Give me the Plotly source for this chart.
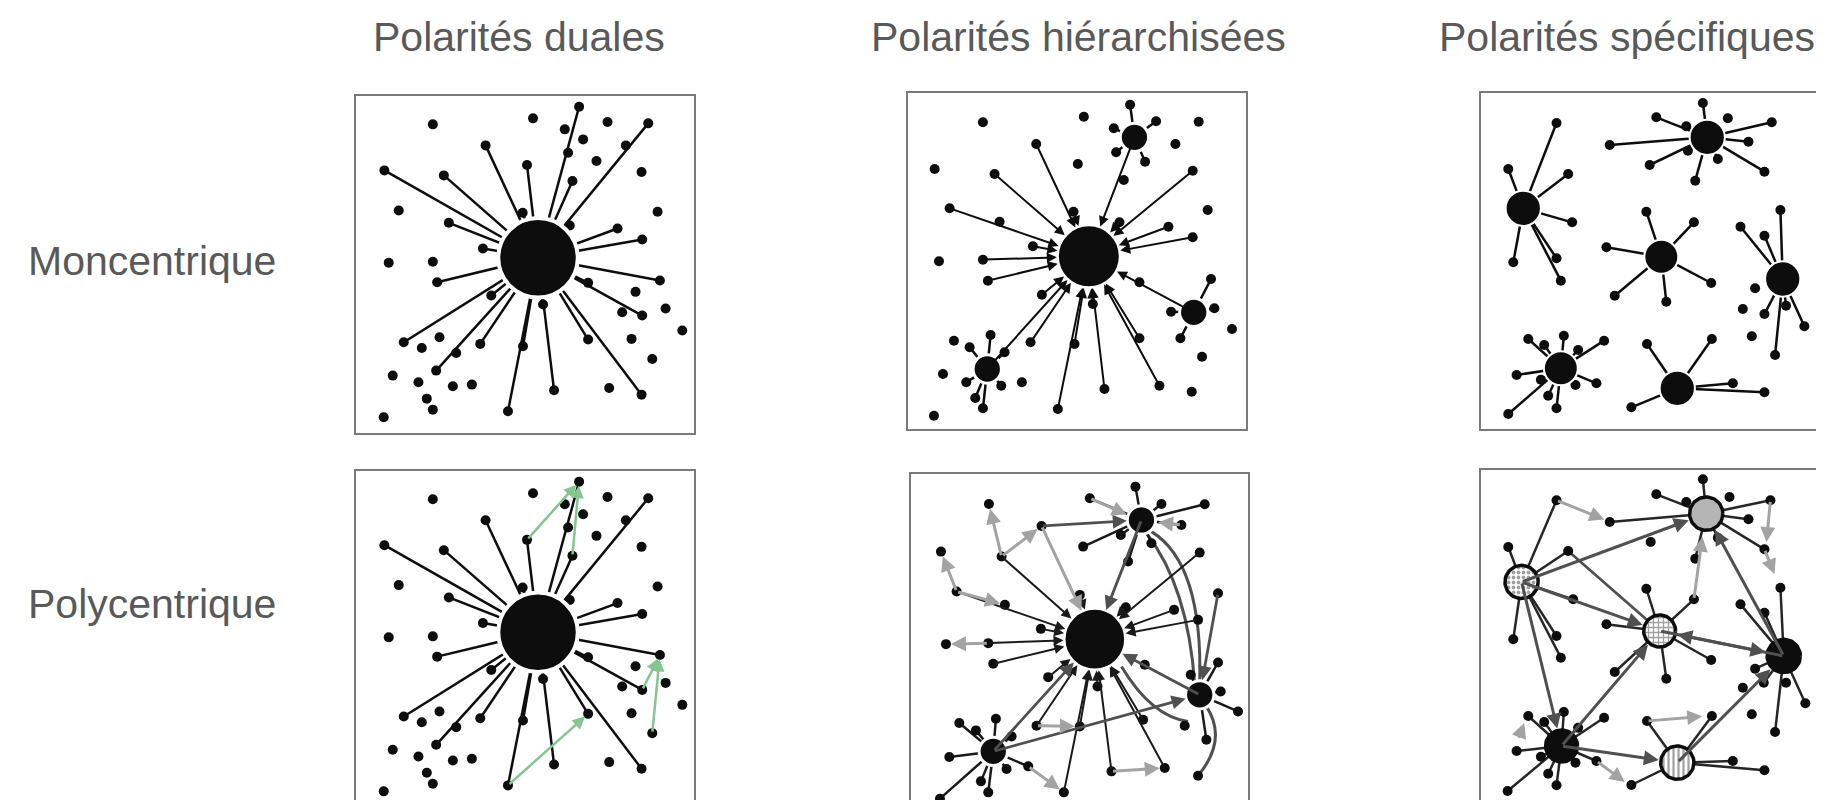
import numpy as np
import plotly.graph_objects as go

W, H = 1824, 800

# ---------------- text ----------------
COL_TITLES = ["Polarités duales", "Polarités hiérarchisées", "Polarités spécifiques"]
COL_TITLE_X = [511, 1070, 1619]
COL_TITLE_Y = 29
ROW_TITLES = ["Moncentrique", "Polycentrique"]
ROW_TITLE_Y = [253, 596]
ROW_TITLE_RIGHT = 270

# panel frames in px (x0, x1, y0, y1) and local extents (bx0, bx1, by0, by1)
PANEL_PX = [(348, 686, 88, 425), (900, 1238, 85, 421), (1473, 1809, 85, 421),
            (348, 686, 463, 799), (903, 1240, 466, 799), (1473, 1809, 462, 798)]
PANEL_BOX = [(25, 1037, 30, 1040), (30, 1045, 22, 1030), (38, 1048, 22, 1030),
             (25, 1037, 30, 1040), (38, 1050, 62, 1062), (38, 1048, 52, 1060)]

# ---------------- panel 1 / 4 : monocentric, dual ----------------
P1_HUBS = [(570, 515, 113)]
P1_SPOKE_X = [110, 288, 413, 537, 693, 673, 900, 303, 405, 524, 808, 882, 935, 882, 720, 880,
              618, 480, 525, 397, 265, 168, 268, 430, 585, 720, 665]
P1_SPOKE_Y = [253, 268, 178, 237, 62, 285, 112, 410, 487, 380, 427, 460, 583, 688, 760, 925,
              912, 975, 780, 773, 853, 768, 588, 628, 655, 590, 418]
P1_DOT_X = [255, 555, 650, 778, 705, 660, 833, 745, 880, 153, 928, 123, 255, 862, 952, 822,
            1002, 850, 912, 783, 275, 222, 325, 135, 212, 315, 372, 237, 255, 108]
P1_DOT_Y = [115, 97, 130, 108, 160, 200, 178, 225, 258, 373, 377, 530, 527, 617, 667, 678,
            733, 758, 818, 905, 753, 785, 800, 868, 888, 900, 895, 937, 970, 993]
P4_GREEN = [(537, 237, 693, 62), (673, 285, 693, 62), (480, 975, 720, 760),
            (912, 818, 935, 583), (882, 688, 935, 583)]

# ---------------- panel 2 : monocentric, hierarchical ----------------
P2_HUBS = [(573, 512, 90), (710, 155, 38), (888, 680, 38), (268, 850, 38)]
P2_IN_X = [155, 290, 415, 255, 270, 405, 527, 885, 812, 885, 665, 725, 785, 620, 480, 530, 398, 432, 585]
P2_IN_Y = [368, 265, 175, 522, 585, 482, 378, 255, 423, 455, 410, 758, 900, 910, 970, 775, 770, 627, 655]
P2_SUB_HUB = [1, 1, 1, 1, 1, 2, 2, 2, 2, 3, 3, 3, 3, 3, 3, 3]
P2_SUB_X = [697, 775, 648, 655, 742, 940, 950, 820, 848, 278, 215, 320, 205, 310, 232, 255]
P2_SUB_Y = [57, 107, 128, 200, 228, 580, 668, 678, 758, 748, 785, 800, 890, 900, 937, 968]
P2_DOT_X = [255, 558, 903, 833, 110, 540, 930, 123, 1003, 913, 882, 168, 135, 372, 108, 305, 725, 678]
P2_DOT_Y = [110, 93, 108, 175, 250, 235, 373, 527, 730, 813, 918, 765, 865, 890, 990, 408, 590, 283]

# ---------------- panel 3 : specific, monocentric ----------------
P3_HUBS = [(165, 368, 50), (718, 155, 50), (580, 513, 48), (945, 580, 50), (278, 848, 48), (628, 908, 50)]
P3_SPOKE_HUB = [0] * 7 + [1] * 11 + [2] * 6 + [3] * 7 + [4] * 12 + [5] * 5
P3_SPOKE_X = [265, 120, 300, 312, 278, 265, 135,
              705, 565, 425, 545, 682, 750, 912, 842, 890, 655, 660,
              535, 678, 415, 440, 595, 730,
              818, 890, 938, 1010, 922, 890, 955,
              180, 228, 287, 330, 408, 145, 218, 322, 385, 240, 265, 120,
              537, 732, 795, 890, 490]
P3_SPOKE_Y = [112, 250, 265, 410, 585, 518, 530,
              52, 95, 178, 238, 285, 220, 110, 168, 258, 122, 195,
              378, 410, 485, 630, 648, 592,
              423, 450, 373, 722, 808, 685, 660,
              760, 778, 750, 793, 765, 868, 882, 898, 893, 930, 968, 985,
              775, 760, 893, 920, 965]
P3_DOT_X = [780, 862, 825, 852]
P3_DOT_Y = [98, 608, 670, 752]

# ---------------- panel 5 : polycentric, hierarchical ----------------
P5_HUBS = [(590, 558, 88), (730, 200, 38), (905, 725, 38), (285, 895, 38)]
P5_IN_X = [310, 175, 270, 285, 428, 545, 905, 828, 900, 683, 735, 800, 640, 545, 497, 415, 450, 598]
P5_IN_Y = [310, 415, 570, 632, 527, 425, 298, 470, 500, 462, 800, 945, 955, 820, 1018, 818, 672, 700]
P5_SUB_HUB = [1] * 9 + [2] * 5 + [3] * 10
P5_SUB_X = [712, 575, 555, 690, 790, 850, 920, 760, 668,
            960, 968, 1020, 925, 878,
            183, 233, 293, 340, 153, 390, 125, 248, 270, 325]
P5_SUB_Y = [100, 135, 280, 325, 152, 215, 153, 270, 245,
            628, 715, 775, 860, 665,
            810, 832, 797, 850, 912, 940, 1037, 985, 1018, 948]
P5_DOT_X = [272, 430, 128, 320, 143, 960, 860, 900, 740]
P5_DOT_Y = [152, 218, 295, 455, 573, 420, 818, 968, 635]
P5_LIGHT = [(310, 310, 272, 152), (310, 310, 430, 218), (175, 415, 128, 295), (175, 415, 320, 455),
            (270, 570, 143, 573), (640, 955, 800, 945), (415, 818, 545, 820), (390, 940, 497, 1018),
            (575, 135, 700, 190), (850, 215, 765, 205)]
P5_LIGHT_TO_HUB = [(430, 218, 0)]
P5_DARK_TO_HUB = [(430, 218, 1), (285, 895, 2), (960, 420, 2), (730, 200, 0), (905, 725, 0), (285, 895, 0)]
P5_CURVES = [(760, 235, 915, 330, 905, 690), (745, 240, 870, 400, 890, 695),
             (900, 968, 990, 860, 925, 760), (670, 640, 760, 790, 870, 805)]

# ---------------- panel 6 : polycentric, specific ----------------
P6_HUBS = [(715, 183, 50), (160, 388, 50), (575, 535, 48), (948, 610, 50), (280, 880, 48), (628, 930, 50)]
P6_HUB_STYLE = ["grey", "dots", "checks", "black", "black", "stripes"]
P6_SPOKE_HUB = [0] * 8 + [1] * 7 + [2] * 6 + [3] * 7 + [4] * 12 + [5] * 5
P6_SPOKE_X = [705, 565, 425, 908, 842, 890, 750, 682,
              120, 265, 300, 315, 265, 278, 135,
              535, 415, 440, 595, 730, 678,
              938, 818, 890, 1013, 922, 888, 862,
              180, 228, 287, 330, 408, 145, 218, 322, 385, 240, 265, 118,
              537, 732, 795, 890, 490]
P6_SPOKE_Y = [80, 125, 208, 143, 200, 290, 255, 318,
              283, 143, 295, 440, 550, 615, 560,
              408, 515, 658, 678, 622, 440,
              405, 455, 480, 752, 838, 690, 648,
              790, 808, 778, 825, 795, 895, 912, 930, 925, 963, 998, 1015,
              805, 790, 925, 953, 997]
P6_DOT_X = [785, 655, 825, 852, 955, 548]
P6_DOT_Y = [133, 148, 705, 785, 690, 268]
P6_LINKS = [(1, 0), (1, 2), (1, 4), (3, 0), (3, 2), (2, 3), (4, 2), (4, 5), (5, 3)]
P6_DARK = [(300, 295, 575, 535)]
P6_LIGHT = [(678, 440, 705, 240), (265, 143, 420, 205), (908, 143, 895, 280), (890, 290, 925, 375),
            (537, 805, 715, 790), (385, 925, 480, 995), (150, 860, 172, 800)]

BLACK = "#0d0d0d"
DARK = "#505050"
LIGHT = "#a3a3a3"
GREEN = "#84c592"
FRAME = "#7a7a7a"
DOT_SIZE = 10
LINE_W = 2.5

fig = go.Figure()
annotations = []
shapes = []


def ax_names(i):
    s = "" if i == 1 else str(i)
    return "x" + s, "y" + s


def scale_of(i):
    x0, x1, _, _ = PANEL_PX[i - 1]
    bx0, bx1, _, _ = PANEL_BOX[i - 1]
    return (x1 - x0) / (bx1 - bx0)


def add_segments(i, segs, color, width):
    xs, ys = [], []
    for (a, b, c, d) in segs:
        xs += [a, c, None]
        ys += [b, d, None]
    xr, yr = ax_names(i)
    fig.add_trace(go.Scatter(x=xs, y=ys, mode="lines", xaxis=xr, yaxis=yr, hoverinfo="skip",
                             line=dict(color=color, width=width), showlegend=False))


def spokes(hubs, hub_idx, xs, ys):
    return [(x, y, hubs[h][0], hubs[h][1]) for h, x, y in zip(hub_idx, xs, ys)]


def add_dots(i, xs, ys, size=DOT_SIZE):
    xr, yr = ax_names(i)
    fig.add_trace(go.Scatter(x=xs, y=ys, mode="markers", xaxis=xr, yaxis=yr, hoverinfo="skip",
                             marker=dict(color=BLACK, size=size, opacity=1, line=dict(width=0)),
                             showlegend=False))


def add_hubs(i, hubs, halo=3):
    xr, yr = ax_names(i)
    s = scale_of(i)
    fig.add_trace(go.Scatter(x=[h[0] for h in hubs], y=[h[1] for h in hubs], mode="markers",
                             xaxis=xr, yaxis=yr, hoverinfo="skip", showlegend=False,
                             marker=dict(color=BLACK, opacity=1, size=[2 * h[2] * s + halo for h in hubs],
                                         line=dict(color="white", width=halo))))


def add_arrow(i, tx, ty, hx, hy, color, width, standoff=0, size=1.0):
    xr, yr = ax_names(i)
    annotations.append(dict(x=hx, y=hy, ax=tx, ay=ty, xref=xr, yref=yr, axref=xr, ayref=yr,
                            text="", showarrow=True, arrowhead=2, arrowsize=size,
                            arrowwidth=width, arrowcolor=color, standoff=standoff))


def add_curve(i, x0, y0, cx, cy, x1, y1, color, width):
    xr, yr = ax_names(i)
    shapes.append(dict(type="path", xref=xr, yref=yr, layer="below",
                       path=f"M {x0},{y0} Q {cx},{cy} {x1},{y1}",
                       line=dict(color=color, width=width)))


# ---- panel 1 and 4
for i in (1, 4):
    add_segments(i, spokes(P1_HUBS, [0] * len(P1_SPOKE_X), P1_SPOKE_X, P1_SPOKE_Y), BLACK, LINE_W)
    add_dots(i, P1_DOT_X + P1_SPOKE_X, P1_DOT_Y + P1_SPOKE_Y)
    add_hubs(i, P1_HUBS, halo=4)
for (a, b, c, d) in P4_GREEN:
    add_arrow(4, a, b, c, d, GREEN, 2.5, standoff=4, size=1.0)

# ---- panel 2
s2 = scale_of(2)
main = P2_HUBS[0]
add_segments(2, spokes(P2_HUBS, P2_SUB_HUB, P2_SUB_X, P2_SUB_Y), BLACK, LINE_W)
for x, y in zip(P2_IN_X, P2_IN_Y):
    add_arrow(2, x, y, main[0], main[1], BLACK, 2, standoff=main[2] * s2 + 2, size=1.0)
for h in P2_HUBS[1:]:
    add_arrow(2, h[0], h[1], main[0], main[1], BLACK, 2, standoff=main[2] * s2 + 2, size=1.0)
add_dots(2, P2_DOT_X + P2_IN_X + P2_SUB_X, P2_DOT_Y + P2_IN_Y + P2_SUB_Y)
add_hubs(2, P2_HUBS, halo=3)

# ---- panel 3
add_segments(3, spokes(P3_HUBS, P3_SPOKE_HUB, P3_SPOKE_X, P3_SPOKE_Y), BLACK, LINE_W)
add_dots(3, P3_DOT_X + P3_SPOKE_X, P3_DOT_Y + P3_SPOKE_Y)
add_hubs(3, P3_HUBS, halo=2)

# ---- panel 5
s5 = scale_of(5)
main = P5_HUBS[0]
add_segments(5, spokes(P5_HUBS, P5_SUB_HUB, P5_SUB_X, P5_SUB_Y), "#1a1a1a", LINE_W)
for (x0, y0, cx, cy, x1, y1) in P5_CURVES:
    add_curve(5, x0, y0, cx, cy, x1, y1, DARK, 3)
for x, y in zip(P5_IN_X, P5_IN_Y):
    add_arrow(5, x, y, main[0], main[1], "#1a1a1a", 2, standoff=main[2] * s5 + 2, size=1.0)
for (x, y, h) in P5_DARK_TO_HUB:
    hb = P5_HUBS[h]
    add_arrow(5, x, y, hb[0], hb[1], DARK, 2.8, standoff=hb[2] * s5 + 2, size=1.0)
for (x, y, h) in P5_LIGHT_TO_HUB:
    hb = P5_HUBS[h]
    add_arrow(5, x, y, hb[0], hb[1], LIGHT, 3, standoff=hb[2] * s5 + 2, size=1.0)
for (a, b, c, d) in P5_LIGHT:
    add_arrow(5, a, b, c, d, LIGHT, 3, standoff=5, size=1.0)
add_dots(5, P5_DOT_X + P5_IN_X + P5_SUB_X, P5_DOT_Y + P5_IN_Y + P5_SUB_Y)
add_hubs(5, P5_HUBS, halo=3)

# ---- panel 6
s6 = scale_of(6)
add_segments(6, spokes(P6_HUBS, P6_SPOKE_HUB, P6_SPOKE_X, P6_SPOKE_Y), "#262626", LINE_W)
add_segments(6, P6_DARK, DARK, 2.8)
for (a, b) in P6_LINKS:
    ha, hb = P6_HUBS[a], P6_HUBS[b]
    add_arrow(6, ha[0], ha[1], hb[0], hb[1], DARK, 3, standoff=hb[2] * s6 + 2, size=1.0)
for (a, b, c, d) in P6_LIGHT:
    add_arrow(6, a, b, c, d, LIGHT, 3, standoff=4, size=1.0)
add_dots(6, P6_DOT_X + P6_SPOKE_X, P6_DOT_Y + P6_SPOKE_Y)
t = np.linspace(0, 2 * np.pi, 73)
PATTERNS = {"grey": None, "dots": ".", "checks": "+", "stripes": "|", "black": None}
for (hx, hy, r), style in zip(P6_HUBS, P6_HUB_STYLE):
    xr, yr = ax_names(6)
    fillcolor = {"grey": "#b5b5b5", "black": BLACK}.get(style, "white")
    kw = {}
    if PATTERNS[style]:
        kw["fillpattern"] = dict(shape=PATTERNS[style], fgcolor="#444444", bgcolor="white",
                                 size=5, solidity=0.45)
    fig.add_trace(go.Scatter(x=hx + r * np.cos(t), y=hy + r * np.sin(t), mode="lines", fill="toself",
                             fillcolor=fillcolor, xaxis=xr, yaxis=yr, hoverinfo="skip",
                             line=dict(color=BLACK, width=3.5), showlegend=False, **kw))

# ---- axes / frames
layout = dict(width=W, height=H, margin=dict(l=0, r=0, t=0, b=0), paper_bgcolor="white",
              plot_bgcolor="white", showlegend=False)
for i in range(1, 7):
    x0, x1, y0, y1 = PANEL_PX[i - 1]
    bx0, bx1, by0, by1 = PANEL_BOX[i - 1]
    s = "" if i == 1 else str(i)
    common = dict(showgrid=False, zeroline=False, showticklabels=False, ticks="", showline=True,
                  mirror=True, linecolor=FRAME, linewidth=2, fixedrange=True)
    layout["xaxis" + s] = dict(domain=[x0 / W, x1 / W], range=[bx0, bx1], anchor="y" + s, **common)
    layout["yaxis" + s] = dict(domain=[1 - y1 / H, 1 - y0 / H], range=[by1, by0], anchor="x" + s, **common)

TEXT_FONT = dict(family="Liberation Sans, Arial, sans-serif", size=41, color="#595959")
for txt, x in zip(COL_TITLES, COL_TITLE_X):
    annotations.append(dict(text=txt, x=x / W, y=1 - COL_TITLE_Y / H, xref="paper", yref="paper",
                            showarrow=False, xanchor="center", yanchor="middle", font=TEXT_FONT))
for txt, y in zip(ROW_TITLES, ROW_TITLE_Y):
    annotations.append(dict(text=txt, x=ROW_TITLE_RIGHT / W, y=1 - y / H, xref="paper", yref="paper",
                            showarrow=False, xanchor="right", yanchor="middle", font=TEXT_FONT))

layout["annotations"] = annotations
layout["shapes"] = shapes
fig.update_layout(**layout)
fig.write_html("out.html")
